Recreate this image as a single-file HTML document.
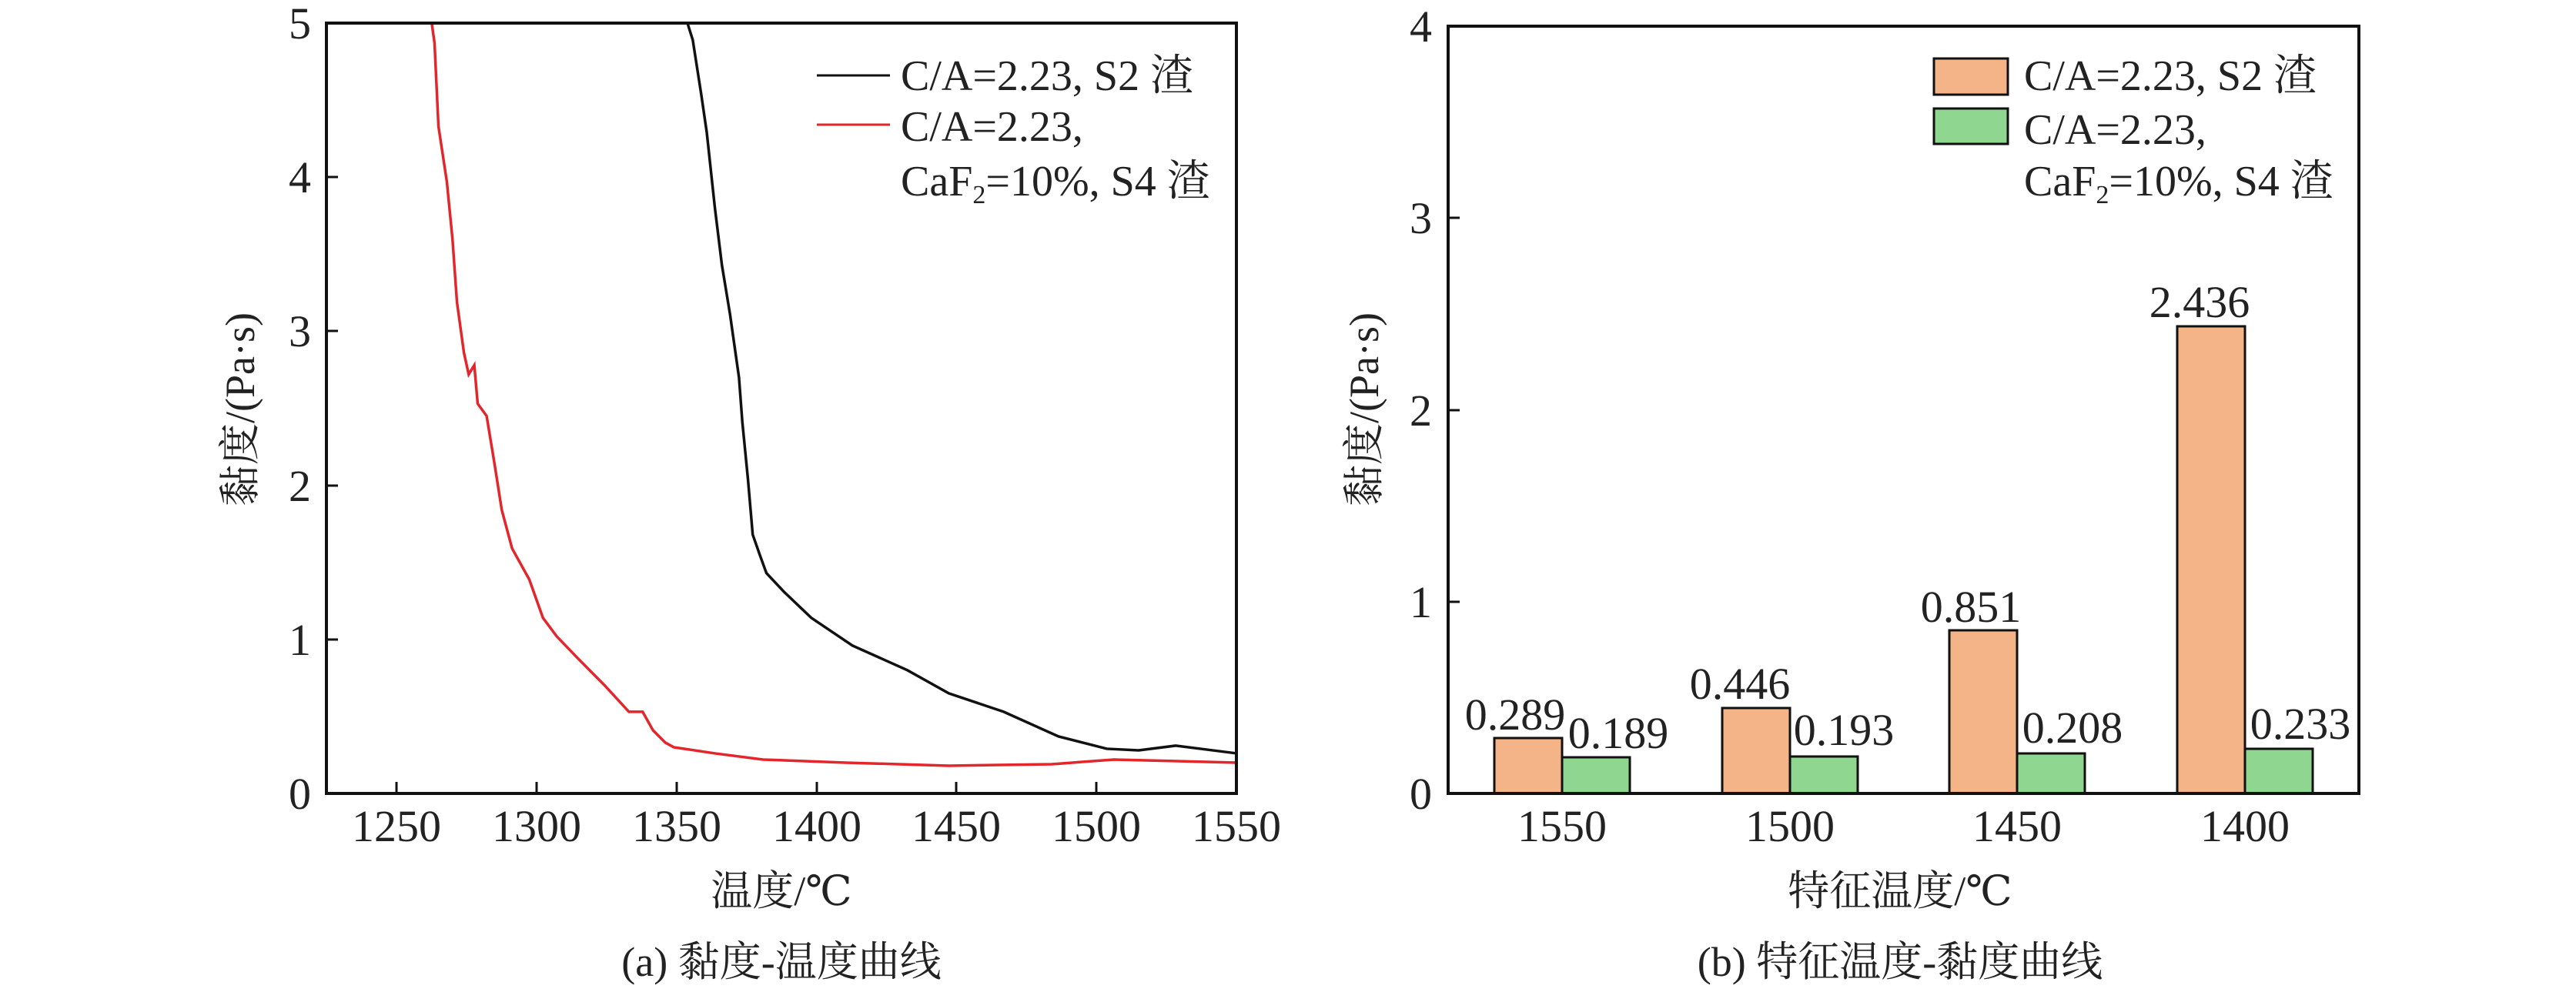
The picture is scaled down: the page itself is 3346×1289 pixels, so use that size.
<!DOCTYPE html>
<html><head><meta charset="utf-8"><style>
html,body{margin:0;padding:0;background:#fff;}
text{font-family:"Liberation Serif","DejaVu Serif","Noto Serif CJK SC",serif;fill:#222;}
</style></head><body>
<svg width="3346" height="1284" viewBox="0 0 3346 1284" xmlns="http://www.w3.org/2000/svg" font-family="'Liberation Serif','DejaVu Serif','Noto Serif CJK SC',serif">
<rect width="3346" height="1284" fill="#fff"/>
<!-- LEFT CHART -->
<g transform="translate(424,1031) scale(3.638,-200.2)" fill="none">
<polyline vector-effect="non-scaling-stroke" stroke="#111" stroke-width="3.5" points="128.9,5 130.8,4.89 133.8,4.54 135.8,4.29 138.7,3.80 141.2,3.43 144.1,3.11 147.3,2.70 148.5,2.41 150.5,2.04 152.2,1.68 154.7,1.55 157.1,1.43 163.3,1.31 173.1,1.14 187.8,0.96 207.4,0.80 222.2,0.65 241.8,0.53 261.4,0.37 278.6,0.29 290,0.28 303.2,0.31 312,0.29 325,0.26"/>
<polyline vector-effect="non-scaling-stroke" stroke="#e3262b" stroke-width="3.5" points="37.6,5 38.6,4.87 40,4.33 43,3.97 45,3.6 46.6,3.19 49.1,2.86 50.8,2.72 52.8,2.78 54,2.53 57.2,2.45 60.1,2.13 62.6,1.84 66.3,1.59 72.4,1.39 77.3,1.14 82.2,1.02 89.6,0.88 99.4,0.70 108,0.53 112.9,0.53 116.6,0.41 121,0.33 124,0.30 138.7,0.26 155.9,0.22 185.3,0.20 222.2,0.18 259,0.19 281.1,0.22 325,0.20"/>
</g>
<rect x="424" y="30" width="1182" height="1001" fill="none" stroke="#111" stroke-width="4"/>
<g stroke="#111" stroke-width="3">
<line x1="515" y1="1031" x2="515" y2="1016"/><line x1="697" y1="1031" x2="697" y2="1016"/><line x1="879" y1="1031" x2="879" y2="1016"/><line x1="1061" y1="1031" x2="1061" y2="1016"/><line x1="1242" y1="1031" x2="1242" y2="1016"/><line x1="1424" y1="1031" x2="1424" y2="1016"/>
<line x1="424" y1="831" x2="439" y2="831"/><line x1="424" y1="631" x2="439" y2="631"/><line x1="424" y1="430" x2="439" y2="430"/><line x1="424" y1="230" x2="439" y2="230"/>
</g>
<g font-size="58" text-anchor="middle">
<text x="515" y="1093">1250</text><text x="697" y="1093">1300</text><text x="879" y="1093">1350</text><text x="1061" y="1093">1400</text><text x="1242" y="1093">1450</text><text x="1424" y="1093">1500</text><text x="1606" y="1093">1550</text>
</g>
<g font-size="58" text-anchor="end">
<text x="404" y="1051">0</text><text x="404" y="851">1</text><text x="404" y="651">2</text><text x="404" y="450">3</text><text x="404" y="250">4</text><text x="404" y="50">5</text>
</g>
<text x="1015" y="1176" font-size="54" text-anchor="middle">温度/℃</text>
<text x="1015" y="1268" font-size="54" text-anchor="middle">(a) 黏度-温度曲线</text>
<text transform="translate(330,532) rotate(-90)" font-size="54" text-anchor="middle">黏度/(Pa·s)</text>
<line x1="1061" y1="98" x2="1156" y2="98" stroke="#111" stroke-width="3"/>
<line x1="1061" y1="162" x2="1156" y2="162" stroke="#e3262b" stroke-width="3"/>
<g font-size="56">
<text x="1170" y="117">C/A=2.23, S2 渣</text>
<text x="1170" y="183">C/A=2.23,</text>
<text x="1170" y="254">CaF<tspan font-size="34" dy="10">2</tspan><tspan dy="-10">=10%, S4 渣</tspan></text>
</g>
<!-- RIGHT CHART -->
<g stroke="#111" stroke-width="3">
<rect x="1941" y="959" width="88" height="72" fill="#f5b388"/>
<rect x="2029" y="984" width="88" height="47" fill="#8fd690"/>
<rect x="2237" y="920" width="88" height="111" fill="#f5b388"/>
<rect x="2325" y="983" width="88" height="48" fill="#8fd690"/>
<rect x="2532" y="819" width="88" height="212" fill="#f5b388"/>
<rect x="2620" y="979" width="88" height="52" fill="#8fd690"/>
<rect x="2828" y="424" width="88" height="607" fill="#f5b388"/>
<rect x="2916" y="973" width="88" height="58" fill="#8fd690"/>
</g>
<rect x="1881" y="34" width="1183" height="997" fill="none" stroke="#111" stroke-width="4"/>
<g stroke="#111" stroke-width="3">
<line x1="1881" y1="782" x2="1896" y2="782"/><line x1="1881" y1="533" x2="1896" y2="533"/><line x1="1881" y1="283" x2="1896" y2="283"/>
</g>
<g font-size="58" text-anchor="end">
<text x="1860" y="1051">0</text><text x="1860" y="802">1</text><text x="1860" y="553">2</text><text x="1860" y="303">3</text><text x="1860" y="54">4</text>
</g>
<g font-size="58" text-anchor="middle">
<text x="2029" y="1093">1550</text><text x="2325" y="1093">1500</text><text x="2620" y="1093">1450</text><text x="2916" y="1093">1400</text>
<text x="1968" y="948">0.289</text><text x="2102" y="972">0.189</text>
<text x="2260" y="908">0.446</text><text x="2395" y="968">0.193</text>
<text x="2560" y="808">0.851</text><text x="2692" y="965">0.208</text>
<text x="2857" y="412">2.436</text><text x="2988" y="960">0.233</text>
</g>
<text x="2468" y="1176" font-size="54" text-anchor="middle">特征温度/℃</text>
<text x="2468" y="1268" font-size="54" text-anchor="middle">(b) 特征温度-黏度曲线</text>
<text transform="translate(1790,532) rotate(-90)" font-size="54" text-anchor="middle">黏度/(Pa·s)</text>
<rect x="2512" y="76" width="96" height="47" fill="#f5b388" stroke="#111" stroke-width="3"/>
<rect x="2512" y="141" width="96" height="46" fill="#8fd690" stroke="#111" stroke-width="3"/>
<g font-size="56">
<text x="2629" y="117">C/A=2.23, S2 渣</text>
<text x="2629" y="187">C/A=2.23,</text>
<text x="2629" y="254">CaF<tspan font-size="34" dy="10">2</tspan><tspan dy="-10">=10%, S4 渣</tspan></text>
</g>
</svg>
</body></html>
